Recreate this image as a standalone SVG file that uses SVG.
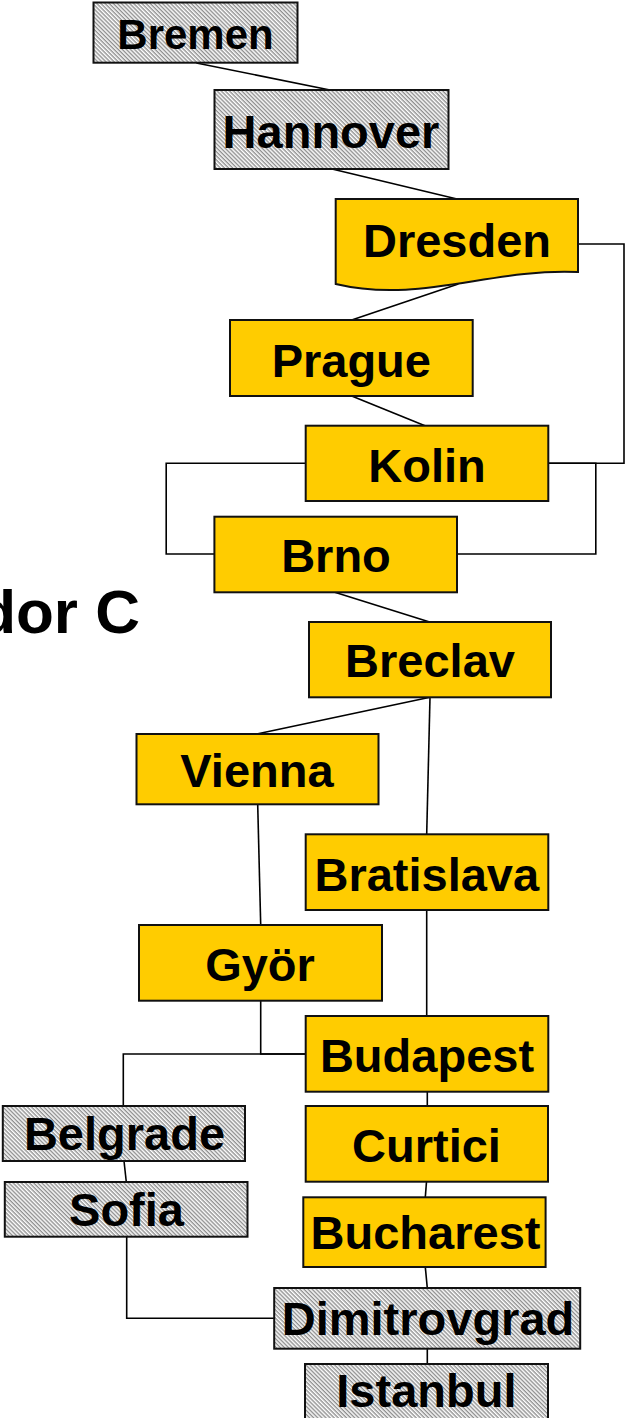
<svg xmlns="http://www.w3.org/2000/svg" width="625" height="1418" viewBox="0 0 625 1418">
<defs>
<pattern id="hatch" width="4" height="2.9" patternUnits="userSpaceOnUse" patternTransform="rotate(45)">
<rect width="4" height="2.9" fill="#ffffff"/>
<rect width="4" height="1.4" fill="#8f8f8f"/>
</pattern>
</defs>
<style>
.y{fill:#FFCC00;stroke:#111;stroke-width:2}
.h{fill:url(#hatch);stroke:#111;stroke-width:2}
.t{font-family:"Liberation Sans",Arial,sans-serif;font-weight:bold;font-size:47px;fill:#000;text-anchor:middle}
.c{fill:none;stroke:#000;stroke-width:1.6}
</style>
<rect width="625" height="1418" fill="#ffffff"/>
<text x="140" y="633" style="font-family:'Liberation Sans',Arial,sans-serif;font-weight:bold;font-size:62px;fill:#000;text-anchor:end">dor C</text>
<g id="connectors">
<path class="c" d="M196.4,63 L330,90"/>
<path class="c" d="M332,169 L457,199"/>
<path class="c" d="M458.3,284 L351.7,320"/>
<path class="c" d="M351.7,396 L425,425.7"/>
<path class="c" d="M578,244 H624 V463.3 H548"/>
<path class="c" d="M548,463.3 H595.8 V554 H457"/>
<path class="c" d="M305.7,463.3 H166.2 V554 H214.4"/>
<path class="c" d="M334.8,592.3 L429.6,622"/>
<path class="c" d="M430,697.3 L256.7,734"/>
<path class="c" d="M430,697.3 L426.7,834.3"/>
<path class="c" d="M257.7,804.3 L260.7,925"/>
<path class="c" d="M426.7,910 V1016"/>
<path class="c" d="M260.7,1000.7 V1054 H305.7"/>
<path class="c" d="M305.7,1054 H123.3 V1106"/>
<path class="c" d="M427.3,1091.7 V1106"/>
<path class="c" d="M124,1161 L126.3,1182"/>
<path class="c" d="M426.5,1181.7 L425.3,1197.3"/>
<path class="c" d="M126.7,1236.7 V1318.3 H274.2"/>
<path class="c" d="M425.3,1267 L427.3,1288"/>
<path class="c" d="M427.3,1348.7 V1364"/>
</g>
<g id="bremen"><rect class="h" x="93.5" y="2.5" width="204" height="60.2"/><text class="t" x="195.5" y="49" style="font-size:42px">Bremen</text></g>
<g id="hannover"><rect class="h" x="214.5" y="90" width="234" height="79"/><text class="t" x="331" y="148">Hannover</text></g>
<g id="dresden"><path class="y" d="M335.7,199 H578 V272 C490,268 420,304 335.7,284 Z"/><text class="t" x="457" y="256.7">Dresden</text></g>
<g id="prague"><rect class="y" x="230" y="320" width="242.7" height="76"/><text class="t" x="351.3" y="376.7">Prague</text></g>
<g id="kolin"><rect class="y" x="305.7" y="425.7" width="242.6" height="75.3"/><text class="t" x="427" y="482.3">Kolin</text></g>
<g id="brno"><rect class="y" x="214.4" y="516.7" width="242.6" height="75.6"/><text class="t" x="336" y="571.7">Brno</text></g>
<g id="breclav"><rect class="y" x="309" y="622" width="242" height="75.3"/><text class="t" x="430" y="677.3">Breclav</text></g>
<g id="vienna"><rect class="y" x="136.5" y="734" width="242" height="70.3"/><text class="t" x="257" y="787.3">Vienna</text></g>
<g id="bratislava"><rect class="y" x="305.7" y="834.3" width="242.6" height="75.7"/><text class="t" x="426.8" y="891">Bratislava</text></g>
<g id="gyor"><rect class="y" x="139" y="925" width="243" height="75.7"/><text class="t" x="260" y="981">Györ</text></g>
<g id="budapest"><rect class="y" x="305.7" y="1016" width="242.6" height="75.7"/><text class="t" x="427" y="1071.7">Budapest</text></g>
<g id="belgrade"><rect class="h" x="2.8" y="1106" width="242.2" height="55"/><text class="t" x="124.5" y="1150">Belgrade</text></g>
<g id="curtici"><rect class="y" x="305.7" y="1106" width="242.3" height="75.7"/><text class="t" x="426.5" y="1161.7">Curtici</text></g>
<g id="sofia"><rect class="h" x="4.8" y="1182" width="242.7" height="54.7"/><text class="t" x="126.5" y="1225.7">Sofia</text></g>
<g id="bucharest"><rect class="y" x="303.3" y="1197.3" width="242.3" height="69.7"/><text class="t" x="425.5" y="1249.3">Bucharest</text></g>
<g id="dimitrovgrad"><rect class="h" x="274.2" y="1288" width="306" height="60.7"/><text class="t" x="428" y="1335">Dimitrovgrad</text></g>
<g id="istanbul"><rect class="h" x="305" y="1364" width="243" height="62"/><text class="t" x="426.4" y="1406.7">Istanbul</text></g>
</svg>
